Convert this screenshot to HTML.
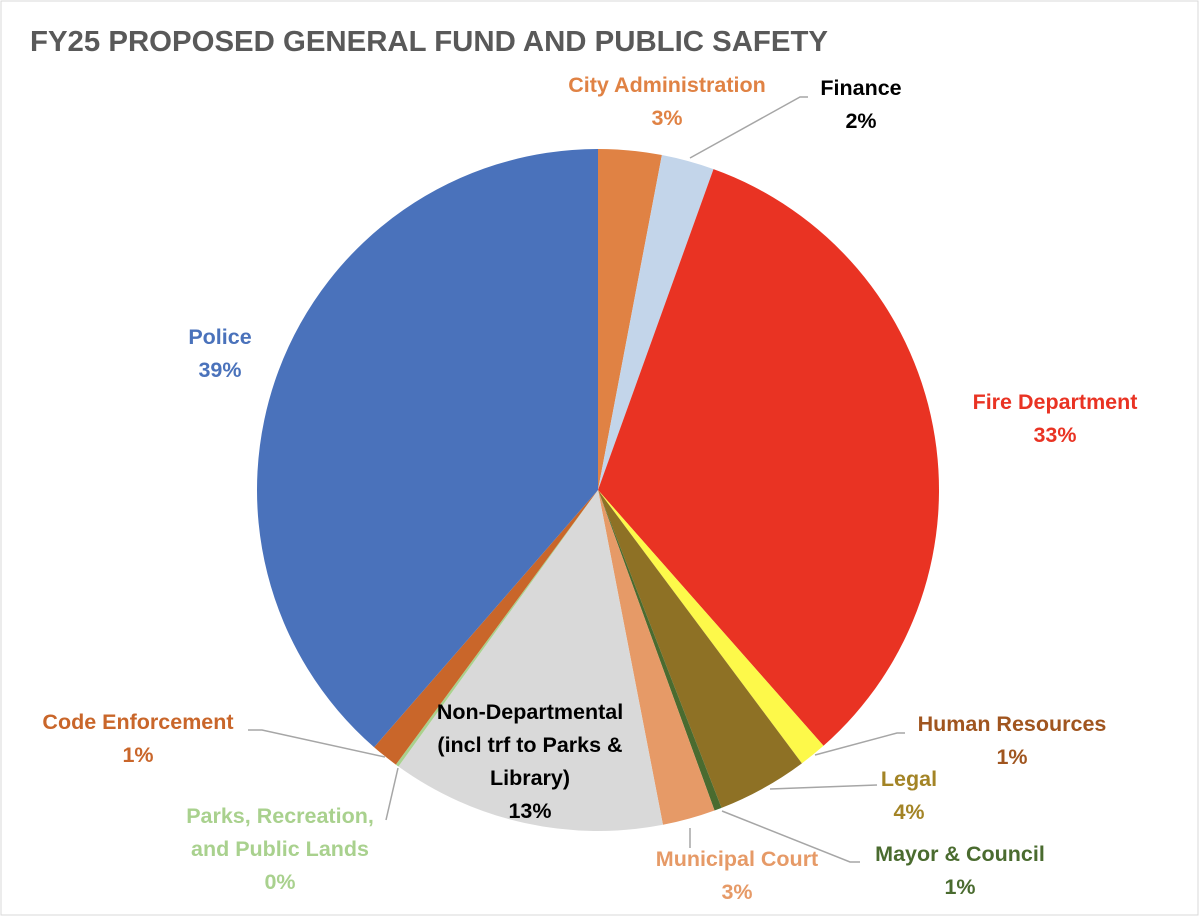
<!DOCTYPE html>
<html><head><meta charset="utf-8"><style>
body{margin:0;background:#fff;}
svg{display:block;font-family:"Liberation Sans",Arial,sans-serif;font-weight:bold;}
</style></head><body>
<svg width="1200" height="917" viewBox="0 0 1200 917">
<rect x="1" y="1" width="1197" height="914" fill="#fff" stroke="#d9d9d9"/>
<text x="30" y="51" font-size="29" textLength="798" lengthAdjust="spacingAndGlyphs" fill="#595959">FY25 PROPOSED GENERAL FUND AND PUBLIC SAFETY</text>
<g id="slices"></g>
<g id="leaders" stroke="#a6a6a6" stroke-width="1.5" fill="none"></g>
<g id="labels" font-size="21.5" text-anchor="middle"></g>
</svg>
<script>
const categories=["City Administration","Finance","Fire Department","Human Resources","Legal","Mayor & Council","Municipal Court","Non-Departmental (incl trf to Parks & Library)","Parks, Recreation, and Public Lands","Code Enforcement","Police"];
const values=[3.0,2.5,33.0,1.3,4.3,0.35,2.5,13.0,0.15,1.3,38.6];
const printed=["3%","2%","33%","1%","4%","1%","3%","13%","0%","1%","39%"];
const colors=["#e08244","#c3d5ea","#e93323","#fdf94a","#8e7125","#4a6b2f","#e69a67","#d9d9d9","#a9d18e","#c9662a","#4a72bb"];
const textColors=["#e08244","#000","#e93323","#a0551f","#a38426","#4a6b2f","#e69a67","#000","#a9d18e","#c9662a","#4a72bb"];
const labelLines=[["City Administration"],["Finance"],["Fire Department"],["Human Resources"],["Legal"],["Mayor & Council"],["Municipal Court"],["Non-Departmental","(incl trf to Parks &","Library)"],["Parks, Recreation,","and Public Lands"],["Code Enforcement"],["Police"]];
const labelPos=[[667,92],[861,95],[1055,409],[1012,731],[909,786],[960,861],[737,866],[530,719],[280,823],[138,729],[220,344]];
const leaderPts=[null,[[690,158],[800,97],[808,97]],null,[[815,755],[897,733],[905,733]],[[770,789],[877,785]],[[722,811],[850,862],[860,862]],[[690,828],[690,848]],null,[[386,820],[398,768]],[[248,730],[262,730],[385,757]],null];
const cx=598,cy=490,r=341,ns="http://www.w3.org/2000/svg";
const total=values.reduce((a,b)=>a+b,0);
function pt(a,rr){return [cx+rr*Math.sin(a),cy-rr*Math.cos(a)];}
let acc=0;
const sg=document.getElementById('slices'),lg=document.getElementById('leaders'),tg=document.getElementById('labels');
values.forEach((v,i)=>{
 const a0=acc/total*2*Math.PI;acc+=v;const a1=acc/total*2*Math.PI;
 const p0=pt(a0,r),p1=pt(a1,r);
 const p=document.createElementNS(ns,'path');
 p.setAttribute('d',`M${cx},${cy}L${p0[0]},${p0[1]}A${r},${r} 0 ${a1-a0>Math.PI?1:0} 1 ${p1[0]},${p1[1]}Z`);
 p.setAttribute('fill',colors[i]);
 
 
 sg.appendChild(p);
 if(leaderPts[i]){
  const l=document.createElementNS(ns,'polyline');
  l.setAttribute('points',leaderPts[i].map(q=>q.join(',')).join(' '));
  
  
  lg.appendChild(l);
 }
 const t=document.createElementNS(ns,'text');
 t.setAttribute('fill',textColors[i]);
 
 
 const lines=labelLines[i].concat([printed[i]]);
 lines.forEach((s,k)=>{
  const ts=document.createElementNS(ns,'tspan');
  ts.setAttribute('x',labelPos[i][0]);
  ts.setAttribute('y',labelPos[i][1]+k*33);
  ts.textContent=s;
  t.appendChild(ts);
 });
 tg.appendChild(t);
});
</script>
</body></html>
